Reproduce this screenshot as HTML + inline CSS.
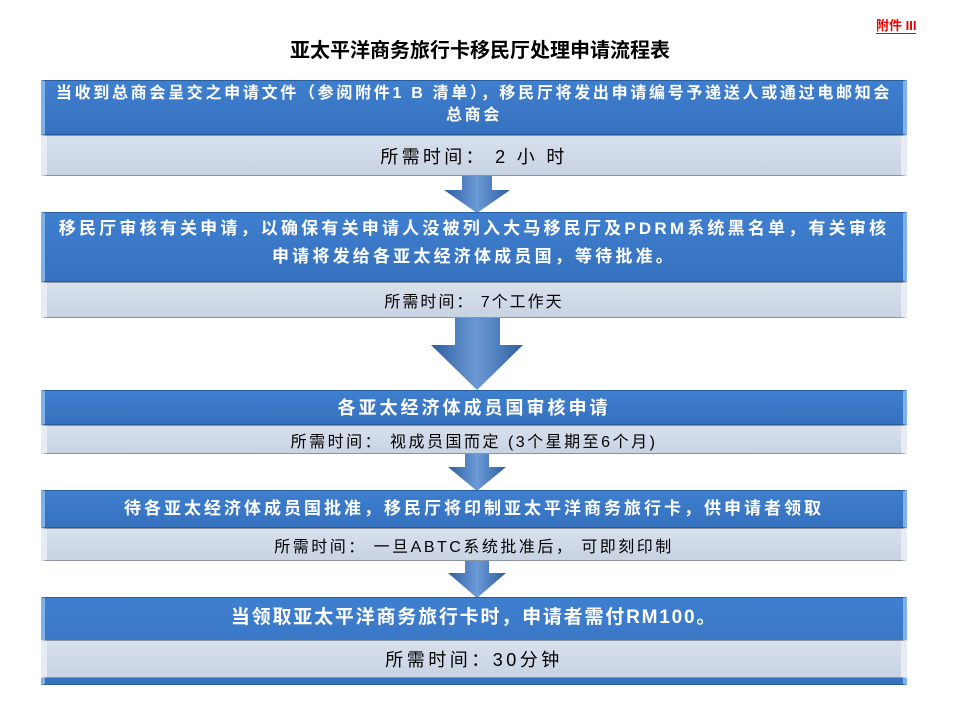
<!DOCTYPE html>
<html><head><meta charset="utf-8"><style>
body{margin:0;width:960px;height:720px;background:#fff;position:relative;overflow:hidden;font-family:"Liberation Sans","Noto Sans CJK SC",sans-serif}
.t{position:absolute;left:0;width:960px;top:34px;text-align:center;font-size:20px;font-weight:bold;color:#000}
.r{position:absolute;left:876px;top:19px;font-size:13px;font-weight:bold;color:#e00;border-bottom:1px solid #e00;line-height:14px}
.b{position:absolute;left:41px;width:866px;background:linear-gradient(#3f7fcf,#3571be);color:#fff;font-weight:bold;font-size:17px;letter-spacing:2.5px;text-align:center;box-sizing:border-box;border:1px solid #2a5d9c;border-left:4px solid #7fb2e8;border-right:4px solid #7fb2e8;display:flex;align-items:center;justify-content:center;line-height:24px;padding:0 2px;white-space:nowrap}
.g{position:absolute;left:41px;width:866px;background:linear-gradient(#d8e0ec,#c8d3e3);color:#000;font-size:17px;letter-spacing:1.5px;text-align:center;box-sizing:border-box;border:1px solid #8a93a0;border-left:6px solid #e7ecf3;border-right:6px solid #e7ecf3;display:flex;align-items:center;justify-content:center;white-space:nowrap}
svg{position:absolute;left:0;top:0}
</style></head><body>
<div class="t">亚太平洋商务旅行卡移民厅处理申请流程表</div>
<div class="r">附件 III</div>
<svg width="960" height="720">
<defs><linearGradient id="a" x1="0" x2="1"><stop offset="0" stop-color="#2d5ea0"/><stop offset=".5" stop-color="#6b9ad6"/><stop offset="1" stop-color="#2d5ea0"/></linearGradient></defs>
<polygon points="462,176 492,176 492,190 510,190 477,213 444,190 462,190" fill="url(#a)"/>
<polygon points="455,318 500,318 500,345 523,345 477,390 431,345 455,345" fill="url(#a)"/>
<polygon points="465,454 489,454 489,467 506,467 477,491 448,467 465,467" fill="url(#a)"/>
<polygon points="465,561 489,561 489,573 506,573 477,598 448,573 465,573" fill="url(#a)"/>
</svg>
<div class="b" style="top:80px;height:55px;font-size:16px;letter-spacing:2.7px;line-height:22px;align-items:flex-start;padding-top:2px"><div>当收到总商会呈交之申请文件（参阅附件1 B 清单），移民厅将发出申请编号予递送人或通过电邮知会<br>总商会</div></div>
<div class="g" style="top:135px;height:41px;font-size:18px;letter-spacing:3.3px">所需时间： 2 小 时</div>
<div class="b" style="top:212px;height:70px;font-size:17px;letter-spacing:3.2px;line-height:28px;align-items:flex-start;padding-top:2px"><div>移民厅审核有关申请，以确保有关申请人没被列入大马移民厅及PDRM系统黑名单，有关审核<br>申请将发给各亚太经济体成员国，等待批准。</div></div>
<div class="g" style="top:282px;height:36px;font-size:16px;letter-spacing:2px">所需时间： 7个工作天</div>
<div class="b" style="top:390px;height:35px;font-size:18px;letter-spacing:3px">各亚太经济体成员国审核申请</div>
<div class="g" style="top:425px;height:29px;font-size:16px;letter-spacing:2.5px">所需时间： 视成员国而定 (3个星期至6个月)</div>
<div class="b" style="top:490px;height:38px;font-size:17px;letter-spacing:3px">待各亚太经济体成员国批准，移民厅将印制亚太平洋商务旅行卡，供申请者领取</div>
<div class="g" style="top:528px;height:33px;font-size:16px;letter-spacing:2.5px">所需时间： 一旦ABTC系统批准后， 可即刻印制</div>
<div class="b" style="top:597px;height:88px;align-items:flex-start;padding-top:8px;font-size:19px;letter-spacing:1.8px">当领取亚太平洋商务旅行卡时，申请者需付RM100。</div>
<div class="g" style="top:640px;height:38px;font-size:18px;letter-spacing:3.5px">所需时间：30分钟</div>
</body></html>
